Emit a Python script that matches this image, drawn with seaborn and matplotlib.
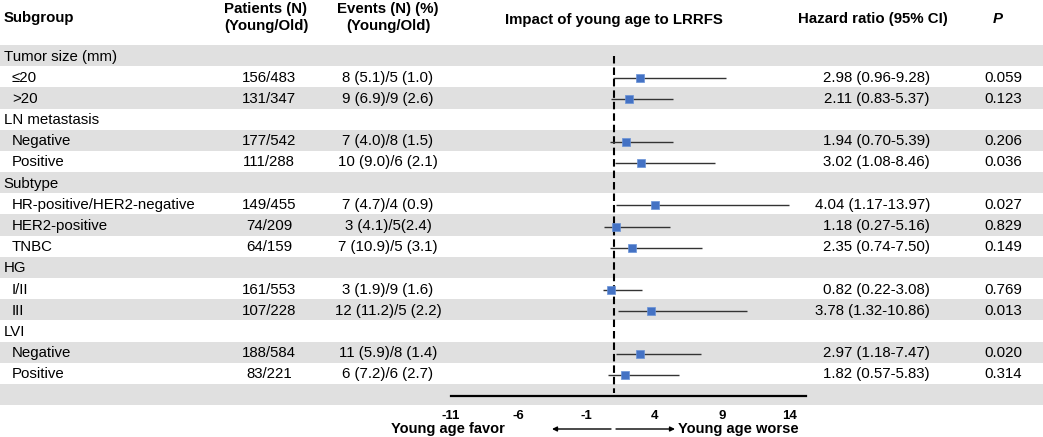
import numpy as np
import pandas as pd
import matplotlib
matplotlib.use("Agg")
import matplotlib.pyplot as plt
import seaborn as sns

# ---------------- data ----------------
labels = ["Tumor size (mm)", "≤20", ">20", "LN metastasis", "Negative", "Positive",
          "Subtype", "HR-positive/HER2-negative", "HER2-positive", "TNBC",
          "HG", "I/II", "III", "LVI", "Negative", "Positive"]
is_group = [True, False, False, True, False, False, True, False, False, False,
            True, False, False, True, False, False]
patients = ["", "156/483", "131/347", "", "177/542", "111/288", "", "149/455", "74/209",
            "64/159", "", "161/553", "107/228", "", "188/584", "83/221"]
events = ["", "8 (5.1)/5 (1.0)", "9 (6.9)/9 (2.6)", "", "7 (4.0)/8 (1.5)", "10 (9.0)/6 (2.1)",
          "", "7 (4.7)/4 (0.9)", "3 (4.1)/5(2.4)", "7 (10.9)/5 (3.1)", "", "3 (1.9)/9 (1.6)",
          "12 (11.2)/5 (2.2)", "", "11 (5.9)/8 (1.4)", "6 (7.2)/6 (2.7)"]
hr = [np.nan, 2.98, 2.11, np.nan, 1.94, 3.02, np.nan, 4.04, 1.18, 2.35,
      np.nan, 0.82, 3.78, np.nan, 2.97, 1.82]
ci_low = [np.nan, 0.96, 0.83, np.nan, 0.70, 1.08, np.nan, 1.17, 0.27, 0.74,
          np.nan, 0.22, 1.32, np.nan, 1.18, 0.57]
ci_high = [np.nan, 9.28, 5.37, np.nan, 5.39, 8.46, np.nan, 13.97, 5.16, 7.50,
           np.nan, 3.08, 10.86, np.nan, 7.47, 5.83]
pvals = ["", "0.059", "0.123", "", "0.206", "0.036", "", "0.027", "0.829", "0.149",
         "", "0.769", "0.013", "", "0.020", "0.314"]
xticks = [-11, -6, -1, 4, 9, 14]

# ---------------- layout ----------------
W, H = 1043, 437
TOP = 45.0
ROWH = 21.18
NBANDS = len(labels) + 1
GRAY = "#E0E0E0"
BLUE = "#4472C4"
FS = 10.8

sns.set_theme(style="white")
plt.rcParams["font.family"] = ["Liberation Sans", "DejaVu Sans"]
plt.rcParams["text.color"] = "black"

fig = plt.figure(figsize=(W / 100, H / 100), dpi=100)
bg = fig.add_axes([0, 0, 1, 1])
bg.set_xlim(0, W)
bg.set_ylim(H, 0)
bg.axis("off")

ycent = [TOP + ROWH * (i + 0.5) for i in range(NBANDS)]

for i in range(NBANDS):
    if i % 2 == 0:
        bg.axhspan(TOP + ROWH * i, TOP + ROWH * (i + 1), color=GRAY, lw=0, zorder=0)

# headers
hkw = dict(fontsize=FS, fontweight="bold", va="center", color="black")
bg.text(3.5, 18, "Subgroup", ha="left", **hkw)
bg.text(266, 9, "Patients (N)", ha="center", **hkw)
bg.text(266, 26, "(Young/Old)", ha="center", **hkw)
bg.text(388, 9, "Events (N) (%)", ha="center", **hkw)
bg.text(388, 26, "(Young/Old)", ha="center", **hkw)
bg.text(613.6, 20, "Impact of young age to LRRFS", ha="center", **hkw)
bg.text(873, 19, "Hazard ratio (95% CI)", ha="center", **hkw)
bg.text(998, 19, "P", ha="center", style="italic", **hkw)

# table body
bkw = dict(va="center", fontsize=FS, color="black")
for i, lab in enumerate(labels):
    y = ycent[i] + 1
    bg.text(3.5 if is_group[i] else 12, y, lab, ha="left", **bkw)
    if patients[i]:
        bg.text(269, y, patients[i], ha="center", **bkw)
    if events[i]:
        bg.text(388, y, events[i], ha="center", **bkw)
    if not np.isnan(hr[i]):
        bg.text(930, y, f"{hr[i]:.2f} ({ci_low[i]:.2f}-{ci_high[i]:.2f})", ha="right", **bkw)
    if pvals[i]:
        bg.text(1003, y, pvals[i], ha="center", **bkw)

# ---------------- forest axes ----------------
px_per_unit = 13.56
x_one = 613.6
xmin, xmax = -11, 15.2
left_px = x_one + (xmin - 1) * px_per_unit
right_px = x_one + (xmax - 1) * px_per_unit
axis_y = 396.0
fx = fig.add_axes([left_px / W, (H - axis_y) / H, (right_px - left_px) / W, (axis_y - TOP) / H])
fx.set_facecolor("none")
fx.set_xlim(xmin, xmax)
fx.set_ylim(axis_y, TOP)

df = pd.DataFrame({"hr": hr, "lo": ci_low, "hi": ci_high,
                   "y": [c + 1.5 for c in ycent[:len(labels)]]}).dropna()

fx.vlines(1, 56, 393, colors="black", lw=1.5, linestyles=(0, (3.6, 1.9)), zorder=1)
fx.hlines(df["y"], df["lo"], df["hi"], colors="#333333", lw=1.0, zorder=2)
sns.scatterplot(data=df, x="hr", y="y", marker="s", s=34, color=BLUE,
                edgecolor="#6A93D8", linewidth=0.5, ax=fx, zorder=3, legend=False)

for s in ["top", "left", "right"]:
    fx.spines[s].set_visible(False)
fx.spines["bottom"].set_linewidth(1.6)
fx.spines["bottom"].set_color("black")
fx.set_xticks(xticks)
fx.set_xticklabels([str(t) for t in xticks], fontsize=9.5, fontweight="bold")
fx.tick_params(axis="x", length=0, pad=10, colors="black", labelcolor="black")
fx.set_yticks([])
fx.set_xlabel("")
fx.set_ylabel("")

# direction arrows
bg.text(505, 429, "Young age favor", ha="right", va="center", fontsize=10.5, fontweight="bold")
bg.text(678, 429, "Young age worse", ha="left", va="center", fontsize=10.5, fontweight="bold")
bg.annotate("", xy=(552, 429), xytext=(611, 429),
            arrowprops=dict(arrowstyle="-|>", lw=1.0, color="black", mutation_scale=7, shrinkA=0, shrinkB=0))
bg.annotate("", xy=(675, 429), xytext=(616, 429),
            arrowprops=dict(arrowstyle="-|>", lw=1.0, color="black", mutation_scale=7, shrinkA=0, shrinkB=0))

fig.savefig("out.png", dpi=100)
